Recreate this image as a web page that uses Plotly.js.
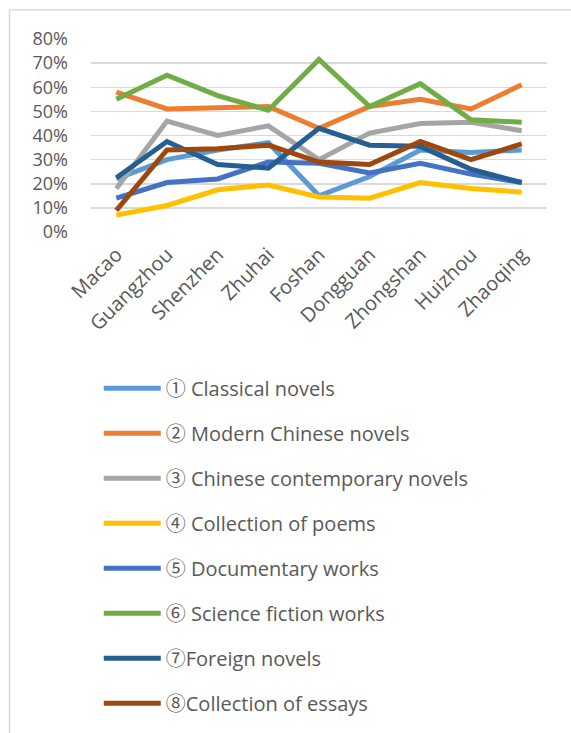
<!DOCTYPE html>
<html>
<head>
<meta charset="utf-8">
<script src="https://cdn.plot.ly/plotly-3.0.1.min.js"></script>
<style>
html,body{margin:0;padding:0;background:#fff;}
#chart{width:571px;height:733px;}
</style>
</head>
<body>
<div id="chart"></div>
<script>
const cities = ["Macao","Guangzhou","Shenzhen","Zhuhai","Foshan","Dongguan","Zhongshan","Huizhou","Zhaoqing"];
const seriesNames = [
  "① Classical novels",
  "② Modern Chinese novels",
  "③ Chinese contemporary novels",
  "④ Collection of poems",
  "⑤ Documentary works",
  "⑥ Science fiction works",
  "⑦Foreign novels",
  "⑧Collection of essays"
];
const classicalNovels      = [0.22, 0.30, 0.34, 0.37, 0.15, 0.23, 0.34, 0.33, 0.34];
const modernChineseNovels  = [0.58, 0.51, 0.515, 0.52, 0.43, 0.52, 0.55, 0.51, 0.61];
const contemporaryNovels   = [0.18, 0.46, 0.40, 0.44, 0.30, 0.41, 0.45, 0.455, 0.42];
const poems                = [0.07, 0.11, 0.175, 0.195, 0.145, 0.14, 0.205, 0.18, 0.165];
const documentaryWorks     = [0.14, 0.205, 0.22, 0.29, 0.285, 0.245, 0.285, 0.24, 0.205];
const scienceFiction       = [0.55, 0.65, 0.565, 0.505, 0.715, 0.52, 0.615, 0.465, 0.455];
const foreignNovels        = [0.225, 0.375, 0.28, 0.265, 0.43, 0.36, 0.355, 0.26, 0.205];
const essays               = [0.09, 0.34, 0.345, 0.36, 0.29, 0.28, 0.375, 0.30, 0.365];
const colors = ["#5B9BD5","#ED7D31","#A5A5A5","#FFC000","#4472C4","#70AD47","#255E91","#9E480E"];
const allSeries = [classicalNovels, modernChineseNovels, contemporaryNovels, poems, documentaryWorks, scienceFiction, foreignNovels, essays];

const traces = allSeries.map((vals, i) => ({
  type: "scatter",
  mode: "lines",
  x: cities,
  y: vals,
  name: seriesNames[i],
  legendgroup: "g" + i,
  line: {color: colors[i], width: 5, shape: "linear"},
  hoverinfo: "skip"
}));

const family = "Open Sans, 'Noto Sans CJK SC', sans-serif";
const font = {family: family, size: 20, color: "#595959"};
const yFont = {family: family, size: 18, color: "#595959"};

const layout = {
  width: 571,
  height: 733,
  margin: {l: 91, r: 24, t: 39, b: 499.5},
  paper_bgcolor: "#ffffff",
  plot_bgcolor: "#ffffff",
  font: font,
  showlegend: true,
  xaxis: {
    type: "category",
    range: [-0.5, 8.5],
    tickangle: -45,
    showgrid: false,
    zeroline: false,
    showline: false,
    ticks: "",
    ticklabelstandoff: 6,
    tickfont: font,
    fixedrange: true
  },
  yaxis: {
    range: [0, 0.8],
    dtick: 0.1,
    tickformat: ".0%",
    showgrid: true,
    gridcolor: "#d9d9d9",
    gridwidth: 1.5,
    zeroline: false,
    showline: false,
    ticks: "",
    ticklabelstandoff: 22,
    tickfont: yFont,
    fixedrange: true
  },
  legend: {
    orientation: "v",
    x: 0.017,
    xanchor: "left",
    y: -0.70,
    yanchor: "top",
    font: font,
    tracegroupgap: 16,
    itemwidth: 57,
    bgcolor: "rgba(0,0,0,0)"
  },
  shapes: [
    {type: "line", xref: "paper", yref: "paper", x0: -0.1787, x1: 2, y0: 1.1517, y1: 1.1517, line: {color: "#d9d9d9", width: 1.5}},
    {type: "line", xref: "paper", yref: "paper", x0: -0.1787, x1: -0.1787, y0: 1.1517, y1: -3, line: {color: "#d9d9d9", width: 1.5}}
  ]
};

Plotly.newPlot("chart", traces, layout, {displayModeBar: false, staticPlot: true});
</script>
</body>
</html>
